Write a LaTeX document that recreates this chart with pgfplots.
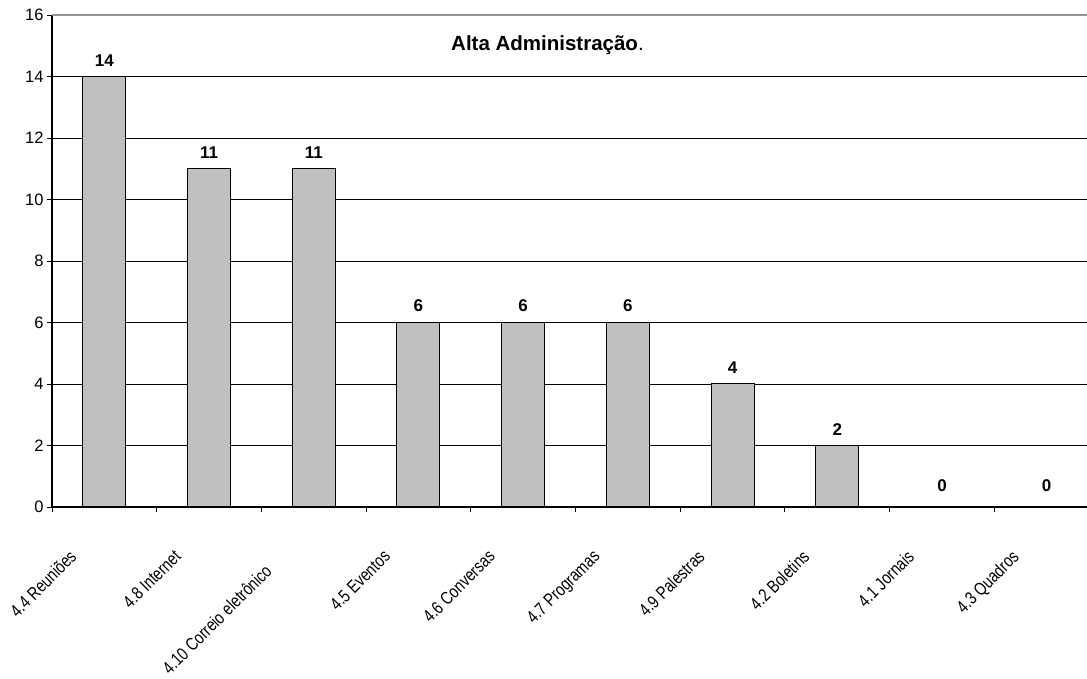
\documentclass[border=0pt]{standalone}
\usepackage{pgfplots}
\pgfplotsset{compat=1.18}
\usepackage{fontspec}
\setmainfont{Liberation Sans}
\newfontfamily\lblfont[FakeStretch=0.8]{Liberation Sans}
\definecolor{bargray}{RGB}{192,192,192}
\begin{document}
\begin{tikzpicture}
\begin{axis}[
  at={(0pt,0pt)}, anchor=south west,
  scale only axis, width=1047pt, height=492pt,
  xmin=-0.5, xmax=9.5, ymin=0, ymax=16,
  axis x line*=bottom, axis y line*=left,
  axis line style={black, line width=1.3pt, -},
  ytick={0,2,...,14},
  extra y ticks={16},
  extra y tick style={grid style={gray!85, line width=1.6pt}},
  ymajorgrids,
  grid style={black, line width=0.9pt},
  tick align=outside,
  major tick length=5pt,
  tick style={black, line width=0.9pt},
  xtick={-0.5,0.5,...,9.5},
  xticklabels={},
  extra x ticks={0,1,2,3,4,5,6,7,8,9},
  extra x tick labels={4.4 Reuniões, 4.8 Internet, 4.10 Correio eletrônico\hspace*{20pt}, 4.5 Eventos, 4.6 Conversas, 4.7 Programas, 4.9 Palestras, 4.2 Boletins, 4.1 Jornais, 4.3 Quadros},
  extra x tick style={major tick length=0pt, xticklabel style={font=\lblfont\fontsize{18}{20}\selectfont, xshift=-36pt, yshift=-37pt, rotate=45, anchor=north east}},
  /pgf/number format/assume math mode=true,
  yticklabel style={font=\fontsize{16.5}{18}\selectfont},
  clip=false,
]
\addplot[ybar, bar width=43pt, bar shift=0pt, fill=bargray, draw=black, line width=1pt,
  nodes near coords,
  every node near coord/.append style={font=\fontsize{17}{19}\selectfont\bfseries, yshift=6.5pt}]
  coordinates {(0,14) (1,11) (2,11) (3,6) (4,6) (5,6) (6,4) (7,2)};
\addplot[ybar, bar width=43pt, bar shift=0pt, draw=none, fill=none,
  nodes near coords,
  every node near coord/.append style={font=\fontsize{17}{19}\selectfont\bfseries, yshift=12pt}]
  coordinates {(8,0) (9,0)};
\node[font=\fontsize{20.5}{24}\selectfont\bfseries] at (axis cs:4.232,15.02) {Alta Administração\textmd{.}};
\end{axis}
\pgfresetboundingbox
\path[use as bounding box] (-52pt,-172pt) rectangle (1035pt,507pt);
\end{tikzpicture}
\end{document}
